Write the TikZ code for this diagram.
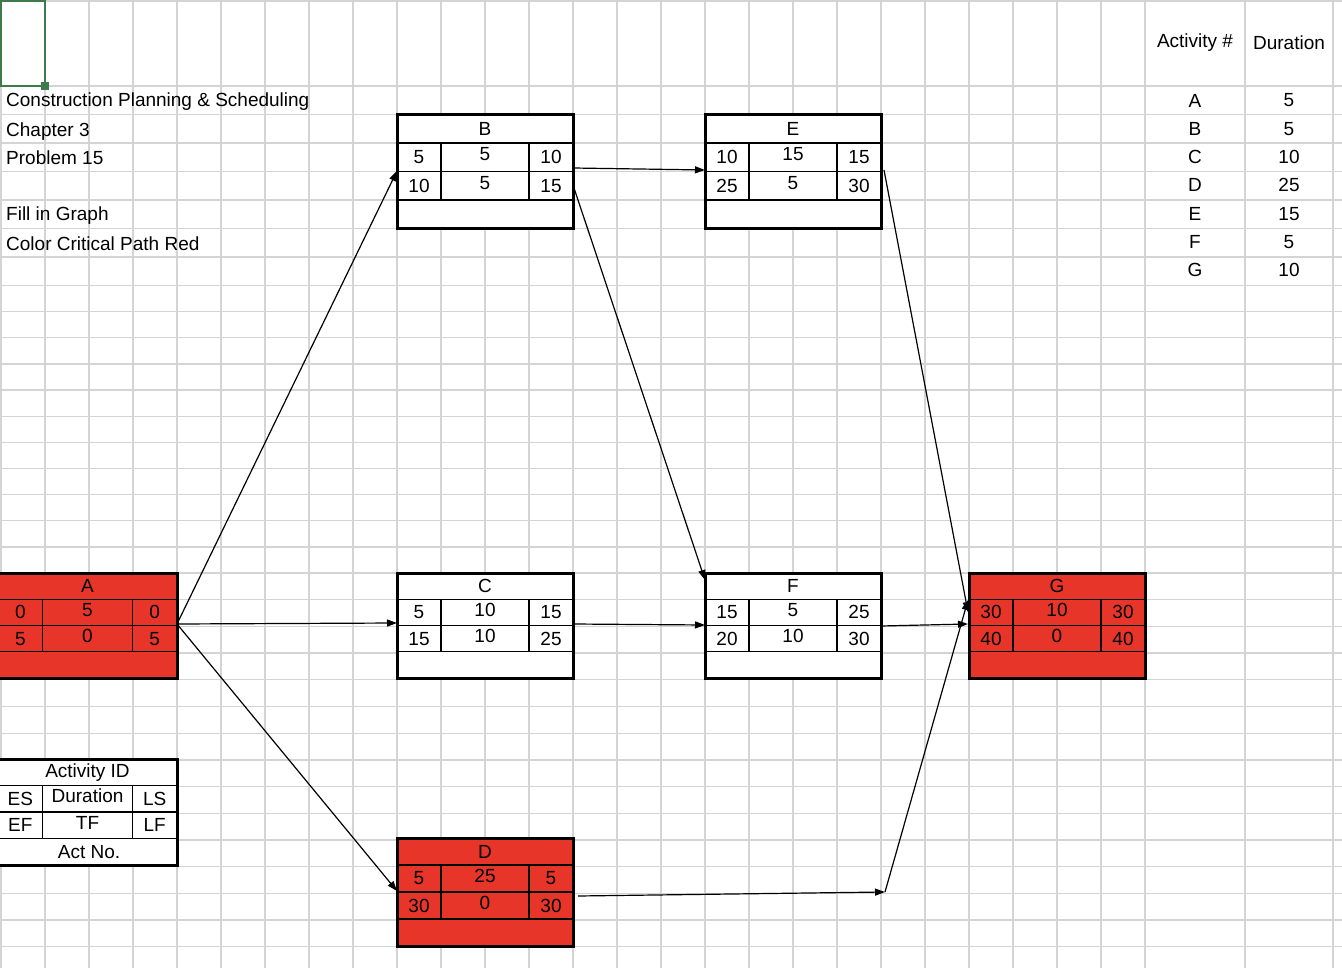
\documentclass[tikz,border=0pt]{standalone}
\usepackage{fontspec}
\setmainfont{Liberation Sans}
\usetikzlibrary{arrows.meta,calc}
\definecolor{cpred}{HTML}{E8352A}
\definecolor{gridc}{HTML}{D4D4D4}
\definecolor{selg}{HTML}{3E7B4B}
\tikzset{
  boxline/.style={line width=3pt},
  inline/.style={line width=1.4pt},
  conn/.style={line width=1.2pt,-{Triangle[length=10pt,width=7pt]}},
  plain/.style={line width=1.2pt},
  txt/.style={font=\fontsize{19}{21}\selectfont,inner sep=0pt},
}
% \actbox{name}{x0}{y0}{x1}{y1}{fill}{id}{es}{dur}{ls}{ef}{tf}{lf}
\newcommand{\actbox}[8]{%
  \def\bx{#2}\def\by{#3}\def\bX{#4}\def\bY{#5}%
  \pgfmathsetmacro{\bw}{(#4-#2)}\pgfmathsetmacro{\bh}{(#5-#3)/4}%
  \pgfmathsetmacro{\cxa}{#2+\bw/4}\pgfmathsetmacro{\cxb}{#4-\bw/4}%
  \node[fill=#6,draw=black,boxline,minimum width=\bw pt,minimum height=4*\bh pt,inner sep=0pt] (#1) at ({(#2+#4)/2},{(#3+#5)/2}) {};
  \draw[inline] (#2,#3+\bh) -- (#4,#3+\bh);
  \draw[inline] (#2,#3+2*\bh) -- (#4,#3+2*\bh);
  \draw[inline] (#2,#3+3*\bh) -- (#4,#3+3*\bh);
  \draw[inline] (\cxa,#3+\bh) -- (\cxa,#3+3*\bh);
  \draw[inline] (\cxb,#3+\bh) -- (\cxb,#3+3*\bh);
  \node[txt] (#1-id) at ({(#2+#4)/2},#3+0.5*\bh) {#7};
  \fillrows{#1}{#8}%
}
\newcommand{\fillrows}[2]{\edef\tmpname{#1}\fillrowsb#2\relax}
\def\fillrowsb#1,#2,#3,#4,#5,#6\relax{%
  \node[txt] (\tmpname-es) at ({(\bx+\cxa)/2},\by+1.5*\bh) {#1};
  \node[txt] (\tmpname-du) at ({(\bx+\bX)/2},\by+1.4*\bh) {#2};
  \node[txt] (\tmpname-ls) at ({(\cxb+\bX)/2},\by+1.5*\bh) {#3};
  \node[txt] (\tmpname-ef) at ({(\bx+\cxa)/2},\by+2.5*\bh) {#4};
  \node[txt] (\tmpname-tf) at ({(\bx+\bX)/2},\by+2.4*\bh) {#5};
  \node[txt] (\tmpname-lf) at ({(\cxb+\bX)/2},\by+2.5*\bh) {#6};
}
\begin{document}
\begin{tikzpicture}[x=1pt,y=-1pt]
\useasboundingbox (0,0) rectangle (1342,968);
\fill[white] (0,0) rectangle (1342,968);
% grid
\foreach \gx in {1,45,...,1145} \draw[gridc,line width=1.3pt] (\gx,0) -- (\gx,968);
\draw[gridc,line width=1.3pt] (1245,0) -- (1245,968);
\draw[gridc,line width=1.3pt] (1333,0) -- (1333,968);
\draw[gridc,line width=1.3pt] (0,1) -- (1342,1);
\foreach \i in {0,...,7} \draw[gridc,line width=1.3pt] (0,86+28.5*\i) -- (1342,86+28.5*\i);
\foreach \i in {1,...,10} \draw[gridc,line width=1.3pt] (0,285.5+26.14*\i) -- (1342,285.5+26.14*\i);
\foreach \i in {0,...,15} \draw[gridc,line width=1.3pt] (0,573+26.7*\i) -- (1342,573+26.7*\i);
% selection
\draw[selg,line width=2.5pt] (1,1) rectangle (45,86);
\fill[selg] (41,82) rectangle (49,90);
% header text
\node[txt,anchor=base west] (t1) at (6,107) {Construction Planning \& Scheduling};
\node[txt,anchor=base west] (t2) at (6,137) {Chapter 3};
\node[txt,anchor=base west] (t3) at (6,165) {Problem 15};
\node[txt,anchor=base west] (t4) at (6,221) {Fill in Graph};
\node[txt,anchor=base west] (t5) at (6,251) {Color Critical Path Red};
% table
\node[txt] (th1) at (1195,43) {Activity \#};
\node[txt] (th2) at (1289,43) {Duration};
\foreach \a/\d [count=\k from 0] in {A/5,B/5,C/10,D/25,E/15,F/5,G/10}{
  \node[txt] (ta\a) at (1195,100.5+28.3*\k) {\a};
  \node[txt] (td\a) at (1289,100.5+28.3*\k) {\d};
}
% boxes
\actbox{A}{-2}{573}{177}{678}{cpred}{A}{0,5,0,5,0,5}
\actbox{B}{397}{114.5}{573}{228.5}{white}{B}{5,5,10,10,5,15}
\actbox{E}{705}{114.5}{881}{228.5}{white}{E}{10,15,15,25,5,30}
\actbox{C}{397}{573}{573}{678}{white}{C}{5,10,15,15,10,25}
\actbox{F}{705}{573}{881}{678}{white}{F}{15,5,25,20,10,30}
\actbox{G}{969}{573}{1145}{678}{cpred}{G}{30,10,30,40,0,40}
\actbox{D}{397}{838}{573}{946}{cpred}{D}{5,25,5,30,0,30}
% legend
\actbox{L}{-2}{759}{177}{865}{white}{Activity ID}{ES,Duration,LS,EF,TF,LF}
\node[txt] (Lact) at (89,852) {Act No.};
% connectors
\coordinate (Aout) at (177,624);
\coordinate (Bin) at (397,171);
\coordinate (Bout1) at (573,168);
\coordinate (Bout2) at (573,185);
\coordinate (Ein) at (705,170);
\coordinate (Eout) at (884,170);
\coordinate (Fin1) at (705,580);
\coordinate (Fin2) at (705,625);
\coordinate (Fout) at (881,626);
\coordinate (Gin1) at (968,612);
\coordinate (Gin2) at (968,624);
\coordinate (Gin3) at (968,600);
\coordinate (Cin) at (397,623);
\coordinate (Cout) at (573,624);
\coordinate (Din) at (397,891);
\coordinate (Dout) at (578,896);
\coordinate (Dbend) at (885,892);
\draw[conn] (Aout) -- (Bin);
\draw[conn] (Aout) -- (Cin);
\draw[conn] (Aout) -- (Din);
\draw[conn] (Bout1) -- (Ein);
\draw[conn] (Bout2) -- (Fin1);
\draw[conn] (Cout) -- (Fin2);
\draw[conn] (Eout) -- (Gin1);
\draw[conn] (Fout) -- (Gin2);
\draw[conn] (Dout) -- (Dbend);
\draw[conn] (Dbend) -- (Gin3);
\end{tikzpicture}
\end{document}
